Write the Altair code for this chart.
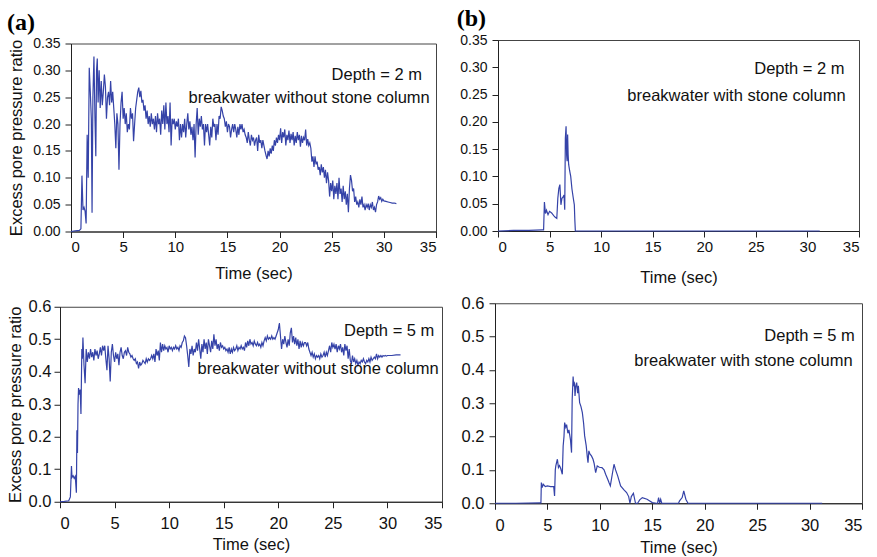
import altair as alt
import pandas as pd

# ---------------------------------------------------------------- data
# Excess pore pressure ratio histories (time in seconds)

# (a) depth 2 m, breakwater without stone column
t_a = [
    0.0, 0.4, 0.8, 0.95, 1.05, 1.15, 1.25, 1.35, 1.45, 1.55, 1.65, 1.75,
    1.85, 1.95, 2.02, 2.1, 2.2, 2.3, 2.38, 2.45, 2.52, 2.6, 2.7, 2.8, 2.9,
    3.0, 3.1, 3.2, 3.3, 3.4, 3.5, 3.6, 3.7, 3.8, 3.9,
    4.0, 4.1, 4.2, 4.3, 4.4, 4.5, 4.6, 4.7, 4.8, 4.9,
    5.0, 5.1, 5.2, 5.3, 5.4, 5.5, 5.6, 5.7, 5.8, 5.9,
    6.0, 6.1, 6.2, 6.3, 6.4, 6.5, 6.6, 6.7, 6.8, 6.9,
    7.0, 7.1, 7.2, 7.3, 7.4, 7.5, 7.6, 7.7, 7.8, 7.9,
    8.0, 8.1, 8.2, 8.3, 8.4, 8.5, 8.6, 8.7, 8.8, 8.9,
    9.0, 9.1, 9.2, 9.3, 9.4, 9.5, 9.6, 9.7, 9.8, 9.9,
    10.0, 10.1, 10.2, 10.3, 10.4, 10.5, 10.6, 10.7, 10.8, 10.9,
    11.0, 11.1, 11.2, 11.3, 11.4, 11.5, 11.6, 11.7, 11.8, 11.9,
    12.0, 12.1, 12.2, 12.3, 12.4, 12.5, 12.6, 12.7, 12.8, 12.9,
    13.0, 13.1, 13.2, 13.3, 13.4, 13.5, 13.6, 13.7, 13.8, 13.9,
    14.0, 14.1, 14.2, 14.3, 14.4, 14.5, 14.6, 14.7, 14.8, 14.9,
    15.0, 15.1, 15.2, 15.3, 15.4, 15.5, 15.6, 15.7, 15.8, 15.9,
    16.0, 16.1, 16.2, 16.3, 16.4, 16.5, 16.6, 16.7, 16.8, 16.9,
    17.0, 17.1, 17.2, 17.3, 17.4, 17.5, 17.6, 17.7, 17.8, 17.9,
    18.0, 18.1, 18.2, 18.3, 18.4, 18.5, 18.6, 18.7, 18.8, 18.9,
    19.0, 19.1, 19.2, 19.3, 19.4, 19.5, 19.6, 19.7, 19.8, 19.9,
    20.0, 20.1, 20.2, 20.3, 20.4, 20.5, 20.6, 20.7, 20.8, 20.9,
    21.0, 21.1, 21.2, 21.3, 21.4, 21.5, 21.6, 21.7, 21.8, 21.9,
    22.0, 22.1, 22.2, 22.3, 22.4, 22.5, 22.6, 22.7, 22.8, 22.9,
    23.0, 23.1, 23.2, 23.3, 23.4, 23.5, 23.6, 23.7, 23.8, 23.9,
    24.0, 24.1, 24.2, 24.3, 24.4, 24.5, 24.6, 24.7, 24.8, 24.9,
    25.0, 25.1, 25.2, 25.3, 25.4, 25.5, 25.6, 25.7, 25.8, 25.9,
    26.0, 26.1, 26.2, 26.3, 26.4, 26.5, 26.6, 26.7, 26.8, 26.9,
    27.0, 27.1, 27.2, 27.3, 27.4, 27.5, 27.6, 27.7, 27.8, 27.9,
    28.0, 28.1, 28.2, 28.3, 28.4, 28.5, 28.6, 28.7, 28.8, 28.9,
    29.0, 29.1, 29.2, 29.3, 29.4, 29.5, 29.6, 29.7, 29.8, 29.9,
    30.0, 30.2, 30.4, 30.6, 30.8, 31.0, 31.2,
]
r_a = [
    0.0, 0.001, 0.002, 0.005, 0.104, 0.04, 0.045, 0.038, 0.015, 0.18, 0.1, 0.305,
    0.26, 0.21, 0.035, 0.25, 0.326, 0.21, 0.14, 0.3, 0.322, 0.24, 0.3, 0.23, 0.28,
    0.235, 0.26, 0.292, 0.27, 0.21, 0.25, 0.26, 0.235, 0.28, 0.24,
    0.26, 0.23, 0.2, 0.155, 0.22, 0.2, 0.115, 0.2, 0.24, 0.26,
    0.21, 0.23, 0.2, 0.22, 0.185, 0.2, 0.19, 0.23, 0.21, 0.22,
    0.168, 0.2, 0.23, 0.245, 0.26, 0.268, 0.25, 0.262, 0.24, 0.245,
    0.225, 0.235, 0.21, 0.225, 0.2, 0.215, 0.195, 0.22, 0.2, 0.21,
    0.19, 0.215, 0.185, 0.22, 0.2, 0.21, 0.18, 0.225, 0.2, 0.235,
    0.19, 0.24, 0.2, 0.215, 0.185, 0.24, 0.16, 0.21, 0.2, 0.21,
    0.19, 0.205, 0.195, 0.21, 0.17, 0.2, 0.175, 0.2, 0.185, 0.21,
    0.175, 0.2, 0.22, 0.19, 0.205, 0.18, 0.195, 0.17, 0.2, 0.138,
    0.2, 0.23, 0.18, 0.21, 0.195, 0.215, 0.19, 0.2, 0.16, 0.2,
    0.185, 0.2, 0.18, 0.16, 0.195, 0.175, 0.21, 0.195, 0.2, 0.17,
    0.2, 0.18, 0.215, 0.21, 0.232, 0.225, 0.215, 0.21, 0.195, 0.205,
    0.185, 0.2, 0.195, 0.175, 0.19, 0.2, 0.185, 0.2, 0.19, 0.175,
    0.195, 0.18, 0.2, 0.19, 0.2, 0.185, 0.19, 0.18, 0.175, 0.165,
    0.185, 0.17, 0.16, 0.18, 0.17, 0.175, 0.16, 0.17, 0.175, 0.15,
    0.18, 0.165, 0.17, 0.155, 0.17, 0.16, 0.15, 0.142, 0.135, 0.15,
    0.14, 0.155, 0.145, 0.16, 0.15, 0.17, 0.16, 0.175, 0.165, 0.18,
    0.17, 0.192, 0.165, 0.185, 0.175, 0.19, 0.16, 0.18, 0.17, 0.188,
    0.165, 0.182, 0.17, 0.185, 0.16, 0.178, 0.165, 0.185, 0.17, 0.18,
    0.158, 0.178, 0.165, 0.175, 0.17, 0.19, 0.16, 0.172, 0.16, 0.165,
    0.155, 0.13, 0.14, 0.12, 0.14, 0.125, 0.13, 0.115, 0.12, 0.105,
    0.125, 0.11, 0.12, 0.1, 0.115, 0.09, 0.11, 0.095, 0.065, 0.09,
    0.075, 0.095, 0.06, 0.085, 0.07, 0.09, 0.06, 0.1, 0.07, 0.08,
    0.055, 0.085, 0.06, 0.075, 0.05, 0.07, 0.036, 0.08, 0.105, 0.095,
    0.075, 0.08, 0.055, 0.065, 0.05, 0.055, 0.045, 0.06, 0.05, 0.065,
    0.045, 0.05, 0.04, 0.05, 0.045, 0.052, 0.04, 0.05, 0.045, 0.055,
    0.04, 0.045, 0.036, 0.05, 0.055, 0.066, 0.06, 0.063, 0.056, 0.06,
    0.057, 0.056, 0.055, 0.054, 0.053, 0.053, 0.052,
]

# (b) depth 2 m, breakwater with stone column
t_b = [
    0.0, 1.5, 3.0, 4.3, 4.42, 4.5, 4.6, 4.7, 4.85, 5.0,
    5.2, 5.4, 5.55, 5.7, 5.8, 5.9, 6.0, 6.1, 6.2, 6.3,
    6.4, 6.47, 6.53, 6.6, 6.65, 6.7, 6.75, 6.8, 6.85, 6.95,
    7.05, 7.17, 7.3, 7.4, 7.45, 7.5, 10.0, 20.0, 31.2,
]
r_b = [
    0.0, 0.001, 0.001, 0.002, 0.002, 0.053, 0.032, 0.038, 0.03, 0.036,
    0.033, 0.028, 0.025, 0.023, 0.06, 0.078, 0.085, 0.048, 0.06, 0.062,
    0.066, 0.039, 0.17, 0.192, 0.14, 0.128, 0.177, 0.14, 0.122, 0.11,
    0.1, 0.077, 0.06, 0.048, 0.02, 0.0, 0.0, 0.0, 0.0,
]

# (a) depth 5 m, breakwater without stone column
t_c = [
    0.0, 0.4, 0.8, 0.95, 1.05, 1.1, 1.2, 1.3, 1.4, 1.5, 1.55, 1.6,
    1.65, 1.7, 1.75, 1.85, 1.92, 2.0, 2.05, 2.1, 2.2, 2.3,
    2.4, 2.5, 2.6, 2.7, 2.8, 2.9,
    3.0, 3.1, 3.2, 3.3, 3.4, 3.5, 3.6, 3.7, 3.8, 3.9,
    4.0, 4.1, 4.2, 4.3, 4.4, 4.5, 4.6, 4.7, 4.8, 4.9,
    5.0, 5.1, 5.2, 5.3, 5.4, 5.5, 5.6, 5.7, 5.8, 5.9,
    6.0, 6.1, 6.2, 6.3, 6.4, 6.5, 6.6, 6.7, 6.8, 6.9,
    7.0, 7.1, 7.2, 7.3, 7.4, 7.5, 7.6, 7.7, 7.8, 7.9,
    8.0, 8.1, 8.2, 8.3, 8.4, 8.5, 8.6, 8.7, 8.8, 8.9,
    9.0, 9.1, 9.2, 9.3, 9.4, 9.5, 9.6, 9.7, 9.8, 9.9,
    10.0, 10.1, 10.2, 10.3, 10.4, 10.5, 10.6, 10.7, 10.8, 10.9,
    11.0, 11.1, 11.2, 11.3, 11.4, 11.5, 11.6, 11.7, 11.8, 11.9,
    12.0, 12.1, 12.2, 12.3, 12.4, 12.5, 12.6, 12.7, 12.8, 12.9,
    13.0, 13.1, 13.2, 13.3, 13.4, 13.5, 13.6, 13.7, 13.8, 13.9,
    14.0, 14.1, 14.2, 14.3, 14.4, 14.5, 14.6, 14.7, 14.8, 14.9,
    15.0, 15.1, 15.2, 15.3, 15.4, 15.5, 15.6, 15.7, 15.8, 15.9,
    16.0, 16.1, 16.2, 16.3, 16.4, 16.5, 16.6, 16.7, 16.8, 16.9,
    17.0, 17.1, 17.2, 17.3, 17.4, 17.5, 17.6, 17.7, 17.8, 17.9,
    18.0, 18.1, 18.2, 18.3, 18.4, 18.5, 18.6, 18.7, 18.8, 18.9,
    19.0, 19.1, 19.2, 19.3, 19.4, 19.5, 19.6, 19.7, 19.8, 19.9,
    20.0, 20.1, 20.2, 20.3, 20.4, 20.5, 20.6, 20.7, 20.8, 20.9,
    21.0, 21.1, 21.2, 21.3, 21.4, 21.5, 21.6, 21.7, 21.8, 21.9,
    22.0, 22.1, 22.2, 22.3, 22.4, 22.5, 22.6, 22.7, 22.8, 22.9,
    23.0, 23.1, 23.2, 23.3, 23.4, 23.5, 23.6, 23.7, 23.8, 23.9,
    24.0, 24.1, 24.2, 24.3, 24.4, 24.5, 24.6, 24.7, 24.8, 24.9,
    25.0, 25.1, 25.2, 25.3, 25.4, 25.5, 25.6, 25.7, 25.8, 25.9,
    26.0, 26.1, 26.2, 26.3, 26.4, 26.5, 26.6, 26.7, 26.8, 26.9,
    27.0, 27.1, 27.2, 27.3, 27.4, 27.5, 27.6, 27.7, 27.8, 27.9,
    28.0, 28.1, 28.2, 28.3, 28.4, 28.5, 28.6, 28.7, 28.8, 28.9,
    29.0, 29.1, 29.2, 29.3, 29.4, 29.5, 29.6, 29.7, 29.8, 29.9,
    30.0, 30.4, 30.8, 31.2,
]
r_c = [
    0.0, 0.001, 0.003, 0.015, 0.11, 0.075, 0.08, 0.072, 0.078, 0.028, 0.22, 0.15,
    0.3, 0.35, 0.33, 0.345, 0.27, 0.47, 0.44, 0.505, 0.42, 0.365,
    0.47, 0.43, 0.46, 0.44, 0.47, 0.445,
    0.46, 0.435, 0.47, 0.45, 0.465, 0.44, 0.455, 0.475, 0.45, 0.48,
    0.465, 0.48, 0.44, 0.405, 0.48, 0.44, 0.37, 0.46, 0.485, 0.45,
    0.43, 0.46, 0.44, 0.455, 0.42, 0.46, 0.475, 0.45, 0.44, 0.46,
    0.465, 0.45, 0.475, 0.46, 0.455, 0.445, 0.45, 0.44, 0.435, 0.44,
    0.425, 0.43, 0.41, 0.43, 0.42, 0.425, 0.435, 0.43, 0.425, 0.44,
    0.43, 0.44, 0.435, 0.44, 0.45, 0.44, 0.455, 0.43, 0.47, 0.45,
    0.465, 0.435, 0.49, 0.46, 0.485, 0.465, 0.48, 0.47, 0.475, 0.46,
    0.48, 0.47, 0.475, 0.465, 0.475, 0.47, 0.48, 0.47, 0.475, 0.465,
    0.48, 0.475, 0.49, 0.495, 0.51, 0.505, 0.48, 0.45, 0.415, 0.47,
    0.455, 0.48, 0.45, 0.47, 0.46, 0.49, 0.465, 0.5, 0.47, 0.44,
    0.485, 0.46, 0.5, 0.47, 0.49, 0.455, 0.5, 0.48, 0.46, 0.495,
    0.47, 0.515, 0.48, 0.5, 0.47, 0.485, 0.465, 0.49, 0.475, 0.48,
    0.47, 0.475, 0.465, 0.47, 0.46, 0.475, 0.455, 0.47, 0.46, 0.475,
    0.465, 0.47, 0.48, 0.465, 0.475, 0.47, 0.48, 0.47, 0.475, 0.465,
    0.49, 0.475, 0.495, 0.48, 0.5, 0.485, 0.49, 0.48, 0.495, 0.485,
    0.48, 0.49, 0.48, 0.485, 0.475, 0.49, 0.48, 0.495, 0.505, 0.495,
    0.51, 0.5, 0.505, 0.5, 0.51, 0.5, 0.505, 0.5, 0.51, 0.52,
    0.53, 0.55, 0.51, 0.47, 0.5, 0.485, 0.51, 0.49, 0.475, 0.5,
    0.48, 0.52, 0.535, 0.49, 0.51, 0.485, 0.505, 0.48, 0.5, 0.47,
    0.495, 0.475, 0.49, 0.48, 0.49, 0.49, 0.48, 0.49, 0.47, 0.46,
    0.45, 0.46, 0.445, 0.455, 0.44, 0.45, 0.445, 0.45, 0.44, 0.455,
    0.445, 0.45, 0.46, 0.445, 0.46, 0.45, 0.465, 0.48, 0.46, 0.49,
    0.475, 0.485, 0.47, 0.485, 0.46, 0.48, 0.47, 0.485, 0.46, 0.475,
    0.45, 0.485, 0.465, 0.48, 0.44, 0.47, 0.435, 0.425, 0.45, 0.43,
    0.44, 0.425, 0.435, 0.42, 0.43, 0.425, 0.435, 0.43, 0.44, 0.43,
    0.425, 0.435, 0.43, 0.44, 0.43, 0.445, 0.435, 0.44, 0.445, 0.44,
    0.455, 0.44, 0.45, 0.445, 0.45, 0.445, 0.45, 0.448, 0.45, 0.448,
    0.45, 0.45, 0.452, 0.452,
]

# (b) depth 5 m, breakwater with stone column
t_d = [
    0.0, 2.0, 4.3, 4.38, 4.42, 4.5, 4.6, 4.8, 5.0, 5.3,
    5.6, 5.68, 5.75, 5.8, 5.95, 6.05, 6.15, 6.26, 6.42, 6.5,
    6.58, 6.64, 6.75, 6.83, 6.95, 7.05, 7.2, 7.3, 7.36, 7.45,
    7.5, 7.58, 7.63, 7.7, 7.79, 7.88, 7.95, 8.07, 8.2, 8.33,
    8.45, 8.55, 8.7, 8.8, 8.87, 8.95, 9.05, 9.2, 9.35, 9.45,
    9.6, 9.75, 9.95, 10.2, 10.4, 10.55, 10.75, 10.87, 11.0, 11.2,
    11.35, 11.5, 11.7, 11.98, 12.3, 12.55, 12.75, 12.87, 13.0, 13.2,
    13.4, 13.6, 13.8, 14.05, 14.5, 15.0, 15.4, 15.5, 15.6, 15.7,
    15.8, 15.9, 16.5, 17.5, 17.6, 17.85, 18.0, 18.2, 18.4, 25.0,
    31.2,
]
r_d = [
    0.0, 0.0, 0.001, 0.001, 0.062, 0.047, 0.057, 0.05, 0.052, 0.05,
    0.05, 0.022, 0.1, 0.112, 0.132, 0.107, 0.113, 0.105, 0.087, 0.172,
    0.2, 0.242, 0.228, 0.236, 0.21, 0.22, 0.19, 0.152, 0.31, 0.38,
    0.355, 0.36, 0.322, 0.35, 0.362, 0.33, 0.352, 0.302, 0.29, 0.272,
    0.24, 0.202, 0.172, 0.14, 0.122, 0.157, 0.148, 0.142, 0.132, 0.12,
    0.092, 0.112, 0.108, 0.107, 0.1, 0.087, 0.072, 0.062, 0.052, 0.09,
    0.117, 0.1, 0.082, 0.052, 0.04, 0.032, 0.02, 0.0, 0.02, 0.03,
    0.0, 0.0, 0.01, 0.017, 0.012, 0.002, 0.0, 0.0, 0.017, 0.0,
    0.012, 0.0, 0.0, 0.0, 0.007, 0.017, 0.037, 0.012, 0.0, 0.0,
    0.0,
]

x_ticks = [0, 5, 10, 15, 20, 25, 30, 35]
y_ticks_top = [0.0, 0.05, 0.10, 0.15, 0.20, 0.25, 0.30, 0.35]
y_ticks_bottom = [0.0, 0.1, 0.2, 0.3, 0.4, 0.5, 0.6]

notes_a = ["Depth = 2 m", "breakwater without stone column"]
notes_b = ["Depth = 2 m", "breakwater with stone column"]
notes_c = ["Depth = 5 m", "breakwater without stone column"]
notes_d = ["Depth = 5 m", "breakwater with stone column"]

# annotation anchors (right edge of text) in data units
note_pos_a = ([33.65, 34.4], [0.292, 0.249])
note_pos_b = ([33.6, 33.7], [0.296, 0.247])
note_pos_c = ([34.3, 34.7], [0.525, 0.407])
note_pos_d = ([34.3, 34.1], [0.502, 0.427])

# ---------------------------------------------------------------- style
FONT = "Liberation Sans"
LINE_COLOR = "#3543a8"
YTITLE = "Excess pore pressure ratio"


def panel(t, r, ymax, yticks, yfmt, notes, pos, width, height,
          xlabel_size, ylabel_size, xlabel_pad, xtitle_pad, ylabel_pad,
          ytitle=None, ytitle_x=-40, title=None, title_dx=0, title_offset=6):
    df = pd.DataFrame({"time": t, "ratio": r})
    xs = alt.Scale(domain=[0, 35], nice=False, zero=False)
    ys = alt.Scale(domain=[0, ymax], nice=False, zero=False)
    x_axis = alt.Axis(values=x_ticks, title="Time (sec)", format="d",
                      labelFontSize=xlabel_size, tickSize=6,
                      labelPadding=xlabel_pad, titlePadding=xtitle_pad,
                      labelOverlap=False)
    y_kwargs = dict(values=yticks, format=yfmt, labelFontSize=ylabel_size,
                    tickSize=6, labelPadding=ylabel_pad, labelOverlap=False)
    if ytitle:
        y_axis = alt.Axis(title=ytitle, titleX=ytitle_x, titleBaseline="bottom",
                          **y_kwargs)
    else:
        y_axis = alt.Axis(title=None, **y_kwargs)

    xenc = alt.X("time:Q", scale=xs, axis=x_axis)
    yenc = alt.Y("ratio:Q", scale=ys, axis=y_axis)
    line = alt.Chart(df).mark_line(color=LINE_COLOR, strokeWidth=1.2).encode(
        x=xenc, y=yenc,
    )
    note_df = pd.DataFrame({"label": notes, "time": pos[0], "ratio": pos[1]})
    text = alt.Chart(note_df).mark_text(
        align="right", baseline="middle", font=FONT, fontSize=16.5,
        color="#111111",
    ).encode(x=xenc, y=yenc, text="label:N")
    props = dict(width=width, height=height)
    if title:
        props["title"] = alt.TitleParams(
            title, anchor="start", frame="bounds", dx=title_dx,
            offset=title_offset, font="Liberation Serif", fontSize=24,
            fontWeight="bold", color="#000000",
        )
    return alt.layer(line, text).properties(**props)


def left_edge():
    # one-pixel blank cell that anchors the left edge of each row, so the two
    # rows line up on their y-axis titles rather than on their plot frames
    return alt.Chart(pd.DataFrame({"k": [0]})).mark_point(
        size=1, opacity=0
    ).encode(x=alt.value(0), y=alt.value(0)).properties(
        width=1, height=1, view=alt.ViewBackground(strokeOpacity=0)
    )


pa = panel(t_a, r_a, 0.35, y_ticks_top, ".2f", notes_a, note_pos_a,
           365, 188, 15, 14, 2, 11, 5, ytitle=YTITLE, ytitle_x=-47,
           title="(a)", title_dx=-1, title_offset=2)
pb = panel(t_b, r_b, 0.35, y_ticks_top, ".2f", notes_b, note_pos_b,
           361, 191, 15, 14, 2, 15, 5,
           title="(b)", title_dx=-3, title_offset=2)
pc = panel(t_c, r_c, 0.6, y_ticks_bottom, ".1f", notes_c, note_pos_c,
           382, 195, 16.5, 16.5, 8, 4, 3, ytitle=YTITLE, ytitle_x=-36.5)
pd_ = panel(t_d, r_d, 0.6, y_ticks_bottom, ".1f", notes_d, note_pos_d,
            367, 200, 16.5, 16.5, 8, 6, 5)

top_row = alt.hconcat(alt.hconcat(left_edge(), pa, spacing=0), pb,
                      spacing=19, center=True)
bottom_row = alt.hconcat(alt.hconcat(left_edge(), pc, spacing=0), pd_,
                         spacing=17, center=True)

chart = alt.vconcat(top_row, bottom_row, spacing=8).properties(
    padding={"left": 4, "top": 6, "right": 0, "bottom": 0},
    background="white",
).configure_axis(
    labelFont=FONT, titleFont=FONT, titleFontSize=16.5,
    titleFontWeight="normal", labelColor="#111111", titleColor="#111111",
    domainColor="#222222", tickColor="#222222", grid=False,
).configure_view(stroke="#444444", strokeWidth=1)

chart.save("out.html", embed_options={"renderer": "svg", "actions": False})
